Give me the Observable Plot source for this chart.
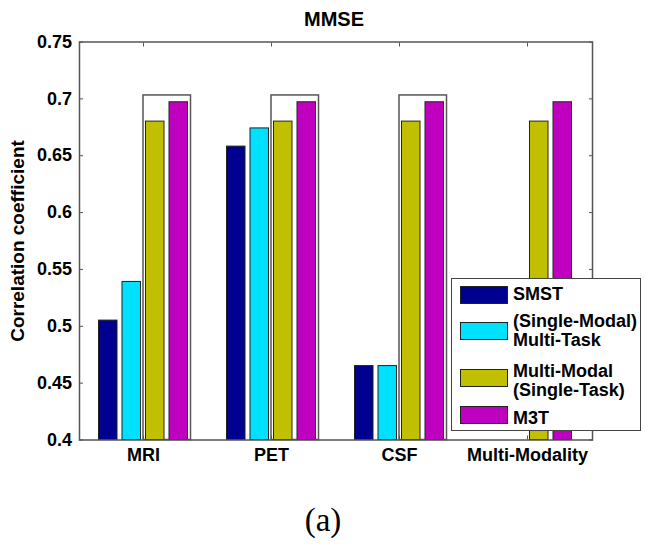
<!DOCTYPE html>
<html>
<head>
<meta charset="utf-8">
<script src="https://cdn.jsdelivr.net/npm/d3@7"></script>
<script src="https://cdn.jsdelivr.net/npm/@observablehq/plot@0.6"></script>
<style>
  body { margin: 0; background: #fff; }
  #chart { position: relative; width: 645px; height: 544px; font-family: "Liberation Sans", Arial, sans-serif; color: #000; }
  #chart svg { position: absolute; left: 0; top: 0; }
  .title { position: absolute; left: 234px; top: 9px; width: 200px; text-align: center; font-size: 20px; line-height: 20px; font-weight: bold; }
  .ylabel { position: absolute; left: 17.5px; top: 241px; transform: translate(-50%, -50%) rotate(-90deg); white-space: nowrap; font-size: 19px; font-weight: bold; }
  .caption { position: absolute; left: 223px; top: 500px; width: 200px; text-align: center; font-family: "Liberation Serif", "Times New Roman", serif; font-size: 33px; line-height: 40px; }
  .legend { position: absolute; left: 451px; top: 278px; width: 190px; height: 153px; box-sizing: border-box; border: 1.2px solid #444; background: #fff; }
  .legend .sw { position: absolute; left: 8px; width: 48px; height: 18px; box-sizing: border-box; border: 1px solid #222; }
  .legend .lab { position: absolute; left: 61px; font-size: 18px; line-height: 19px; font-weight: bold; white-space: nowrap; }
</style>
</head>
<body>
<div id="chart"></div>
<script>
// MMSE correlation coefficients per modality and method
const groups = ["MRI", "PET", "CSF", "Multi-Modality"];
const seriesNames = ["SMST", "(Single-Modal)\nMulti-Task", "Multi-Modal\n(Single-Task)", "M3T"];
const smst = [0.505, 0.658, 0.465, null];
const multiTask = [0.539, 0.674, 0.465, null];
const multiModal = [0.680, 0.680, 0.680, 0.680];
const m3t = [0.697, 0.697, 0.697, 0.697];
const highlighted = ["MRI", "PET", "CSF"];
const highlightTop = 0.703;
const yTicks = [0.4, 0.45, 0.5, 0.55, 0.6, 0.65, 0.7, 0.75];
const baseline = 0.4;
const colors = ["#000090", "#00e0ff", "#c0c000", "#c000c0"];

const seriesValues = [smst, multiTask, multiModal, m3t];

// layout
const W = 645, H = 544;
const mL = 79, mR = 53, mT = 41.5, mB = 104.5;
const xRange = [77.5, 591.5];
const bandW = (xRange[1] - xRange[0]) / groups.length;
const step = 23.5, barW = 19;

function barInsets(j) {
  const o = (j - 1.5) * step;
  return { insetLeft: bandW / 2 + o - barW / 2, insetRight: bandW / 2 - o - barW / 2 };
}

const barMarks = seriesValues.map((vals, j) =>
  Plot.barY(
    groups.map((g, i) => ({ group: g, value: vals[i] })).filter(d => d.value != null),
    { x: "group", y1: baseline, y2: "value", fill: colors[j], stroke: "#222", strokeWidth: 1, ...barInsets(j) }
  )
);

// outline around the two multi-modal bars of each single modality
const boxLeft = barInsets(2).insetLeft - 2.5;
const boxRight = barInsets(3).insetRight - 3;

const tickFmt = d => String(+d.toFixed(2));
const axisText = { fontSize: 18, fontWeight: "bold", fill: "#000" };

const plot = Plot.plot({
  width: W,
  height: H,
  marginLeft: mL, marginRight: mR, marginTop: mT, marginBottom: mB,
  style: { fontFamily: "'Liberation Sans', Arial, sans-serif", background: "transparent" },
  x: { domain: groups, range: xRange, padding: 0, label: null },
  y: { domain: [0.4, 0.75], label: null },
  marks: [
    Plot.barY(highlighted, { x: d => d, y1: baseline, y2: highlightTop, fill: "none", stroke: "#555", strokeWidth: 1.5, insetLeft: boxLeft, insetRight: boxRight }),
    ...barMarks,
    Plot.frame({ stroke: "#555", strokeWidth: 1.5 }),
    Plot.axisY(yTicks, { anchor: "left", tickSize: 0, tickPadding: 7.5, tickFormat: tickFmt, ...axisText }),
    Plot.axisY(yTicks, { anchor: "left", tickSize: 4, dx: 4, tickFormat: () => "", stroke: "#555" }),
    Plot.axisY(yTicks, { anchor: "right", tickSize: 4, dx: -4, tickFormat: () => "", stroke: "#555" }),
    Plot.axisX({ anchor: "bottom", tickSize: 0, tickPadding: 8.5, ...axisText }),
    Plot.axisX({ anchor: "bottom", tickSize: 4, dy: -4, tickFormat: () => "", stroke: "#555" }),
    Plot.axisX({ anchor: "top", tickSize: 4, dy: 4, tickFormat: () => "", stroke: "#555" })
  ]
});

const chart = document.getElementById("chart");
chart.appendChild(plot);

function addDiv(cls, text, css) {
  const d = document.createElement("div");
  d.className = cls;
  d.textContent = text;
  if (css) Object.assign(d.style, css);
  return d;
}

chart.appendChild(addDiv("title", "MMSE"));
chart.appendChild(addDiv("ylabel", "Correlation coefficient"));
chart.appendChild(addDiv("caption", "(a)"));

// legend
const legend = addDiv("legend", "");
const swatchTops = [7, 43, 90, 127];
const labelTops = [6.3, 33.3, 82.8, 129.6];
seriesNames.forEach((name, j) => {
  legend.appendChild(addDiv("sw", "", { top: swatchTops[j] + "px", background: colors[j] }));
  const lab = addDiv("lab", "", { top: labelTops[j] + "px" });
  name.split("\n").forEach((line, k) => {
    if (k) lab.appendChild(document.createElement("br"));
    lab.appendChild(document.createTextNode(line));
  });
  legend.appendChild(lab);
});
chart.appendChild(legend);
</script>
</body>
</html>
